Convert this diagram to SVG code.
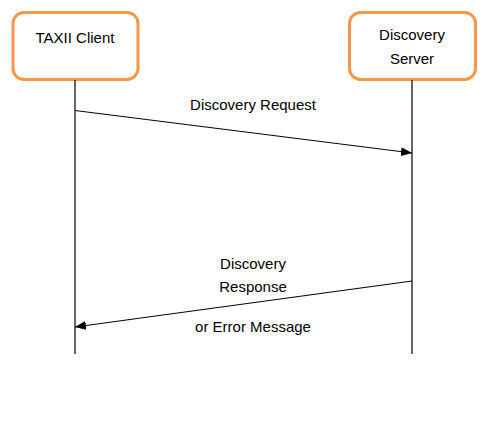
<svg xmlns="http://www.w3.org/2000/svg" width="484" height="421" viewBox="0 0 484 421">
<defs>
<style>
.box{fill:#fff;stroke:#F79646;stroke-width:3}
.life{stroke:#000;stroke-width:1.2;fill:none}
.msg{stroke:#000;stroke-width:1;fill:none;marker-end:url(#ah)}
text{font-family:"Liberation Sans",Arial,sans-serif;font-size:15px;fill:#000;text-anchor:middle}
</style>
<marker id="ah" viewBox="0 0 11 9" refX="11" refY="4.5" markerWidth="11" markerHeight="9" markerUnits="userSpaceOnUse" orient="auto">
<path d="M0,0 L11,4.5 L0,9 z" fill="#000"/>
</marker>
</defs>
<rect width="484" height="421" fill="#fff"/>
<g id="client">
<rect class="box" x="13" y="12.5" width="125" height="67" rx="11"/>
<text x="75" y="43">TAXII Client</text>
</g>
<g id="server">
<rect class="box" x="349.5" y="12.5" width="126" height="67" rx="11"/>
<text x="412" y="40">Discovery</text>
<text x="412" y="64">Server</text>
</g>
<g id="connectors">
<line class="life" x1="75" y1="80" x2="75" y2="354"/>
<line class="life" x1="412" y1="80" x2="412" y2="354"/>
<line class="msg" x1="75" y1="110.5" x2="412" y2="153"/>
<line class="msg" x1="412" y1="281" x2="75" y2="327"/>
</g>
<g id="labels">
<text x="253" y="110">Discovery Request</text>
<text x="253" y="269">Discovery</text>
<text x="253" y="292">Response</text>
<text x="253" y="332">or Error Message</text>
</g>
</svg>
